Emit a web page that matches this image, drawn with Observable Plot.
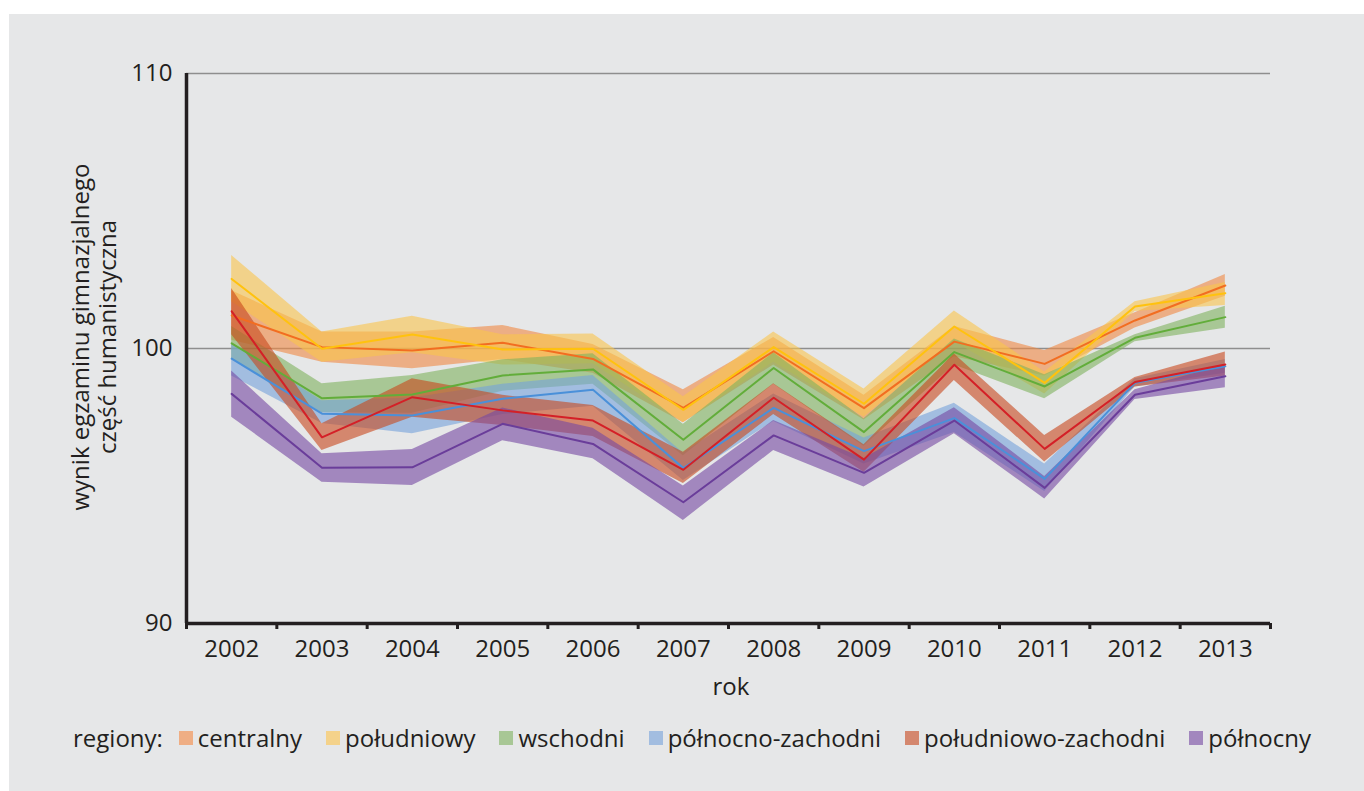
<!DOCTYPE html>
<html>
<head>
<meta charset="utf-8">
<script src="https://cdn.jsdelivr.net/npm/d3@7"></script>
<script src="https://cdn.jsdelivr.net/npm/@observablehq/plot@0.6"></script>
<style>
  html, body { margin: 0; padding: 0; background: #ffffff; width: 1364px; height: 791px; overflow: hidden; }
  body { position: relative; font-family: "Open Sans", sans-serif; color: #231f20; }
  #panel { position: absolute; left: 9px; top: 14px; right: 0; bottom: 0; background: #e6e7e8; }
  #chart { position: absolute; left: 0; top: 0; }
  #ylabel { position: absolute; left: -107px; top: 310px; width: 400px; height: 54px; line-height: 27px;
            text-align: center; font-size: 24px; transform: rotate(-90deg); transform-origin: 50% 50%; }
  #xlabel { position: absolute; left: 631px; width: 200px; top: 670px; text-align: center; font-size: 24px; line-height: 32px; }
  #legend { position: absolute; left: 73px; top: 722px; display: flex;
            align-items: center; font-size: 24px; line-height: 32px; white-space: nowrap; }
  .item { display: flex; align-items: center; margin-left: 24px; }
  .item.first { margin-left: 16px; }
  .sw { width: 14px; height: 14px; margin-right: 5px; display: inline-block; }
</style>
</head>
<body>
<div id="panel"></div>
<div id="chart"></div>
<div id="ylabel">wynik egzaminu gimnazjalnego<br>część humanistyczna</div>
<div id="xlabel">rok</div>
<div id="legend"></div>
<script>
const years = [2002, 2003, 2004, 2005, 2006, 2007, 2008, 2009, 2010, 2011, 2012, 2013];
const regions = ["centralny", "południowy", "wschodni", "północno-zachodni", "południowo-zachodni", "północny"];
const yTicks = [90, 100, 110];

const centralnyMid = [101.2, 100.05, 99.93, 100.21, 99.62, 97.84, 99.9, 97.83, 100.25, 99.44, 101.02, 102.29];
const centralnyLo  = [100.3, 99.5, 99.26, 99.6, 99.1, 97.3, 99.4, 97.4, 99.7, 99.0, 100.75, 101.9];
const centralnyHi  = [102.1, 100.6, 100.6, 100.84, 100.15, 98.5, 100.4, 98.3, 100.8, 99.93, 101.3, 102.69];

const poludniowyMid = [102.53, 99.99, 100.51, 99.96, 99.99, 97.77, 100.05, 97.99, 100.8, 98.75, 101.53, 102.01];
const poludniowyLo  = [101.7, 99.5, 99.85, 99.4, 99.45, 97.3, 99.5, 97.5, 100.25, 98.35, 101.35, 101.56];
const poludniowyHi  = [103.38, 100.6, 101.17, 100.5, 100.53, 98.25, 100.6, 98.53, 101.36, 99.15, 101.7, 102.4];

const wschodniMid = [100.19, 98.19, 98.33, 99.02, 99.24, 96.68, 99.29, 96.96, 99.87, 98.62, 100.39, 101.14];
const wschodniLo  = [99.6, 97.66, 97.65, 98.45, 98.7, 96.1, 98.7, 96.45, 99.4, 98.17, 100.25, 100.74];
const wschodniHi  = [100.8, 98.72, 99.02, 99.59, 99.81, 97.25, 99.85, 97.45, 100.35, 99.05, 100.5, 101.54];

const pnZachMid = [99.63, 97.63, 97.56, 98.17, 98.5, 95.65, 97.84, 96.27, 97.47, 95.26, 98.75, 99.35];
const pnZachLo  = [99.0, 97.27, 96.9, 97.6, 97.9, 95.2, 97.35, 95.8, 96.95, 94.8, 98.6, 99.1];
const pnZachHi  = [100.2, 98.1, 98.2, 98.7, 99.02, 96.2, 98.35, 96.75, 98.01, 95.8, 98.9, 99.6];

const pdZachMid = [101.35, 96.77, 98.23, 97.75, 97.38, 95.59, 98.21, 95.96, 99.41, 96.35, 98.78, 99.42];
const pdZachLo  = [100.5, 96.29, 97.5, 97.2, 96.8, 95.09, 97.6, 95.5, 98.84, 95.87, 98.6, 99.0];
const pdZachHi  = [102.18, 97.26, 98.9, 98.3, 97.93, 96.23, 98.72, 96.5, 99.8, 96.84, 98.95, 99.87];

const polnocnyMid = [98.35, 95.66, 95.68, 97.26, 96.53, 94.41, 96.84, 95.48, 97.38, 94.93, 98.32, 98.99];
const polnocnyLo  = [97.5, 95.14, 95.02, 96.65, 95.99, 93.75, 96.29, 94.96, 96.9, 94.53, 98.15, 98.57];
const polnocnyHi  = [99.18, 96.17, 96.33, 97.84, 97.1, 95.0, 97.38, 96.0, 97.85, 95.35, 98.5, 99.4];

const bandColors = ["#f08842", "#fac44b", "#7fb25d", "#75a1da", "#c8471c", "#7547a1"];
const lineColors = ["#f26d21", "#ffc20e", "#62ad3a", "#4a90d9", "#d42027", "#6a3d9a"];
const swatchColors = ["#efae84", "#f4d28a", "#a8c795", "#a2bde0", "#d4876e", "#a287be"];

const series = [
  [centralnyMid, centralnyLo, centralnyHi],
  [poludniowyMid, poludniowyLo, poludniowyHi],
  [wschodniMid, wschodniLo, wschodniHi],
  [pnZachMid, pnZachLo, pnZachHi],
  [pdZachMid, pdZachLo, pdZachHi],
  [polnocnyMid, polnocnyLo, polnocnyHi]
];

const tables = series.map(([mid, lo, hi], i) =>
  years.map((year, j) => ({region: regions[i], year, mid: mid[j], lo: lo[j], hi: hi[j]}))
);

const bounds = [years[0] - 0.5, ...years.map(y => y + 0.5)];

const bandMarks = tables.map((t, i) =>
  Plot.areaY(t, {x: "year", y1: "lo", y2: "hi", fill: bandColors[i], fillOpacity: 0.6})
);
const lineMarks = tables.map((t, i) =>
  Plot.lineY(t, {x: "year", y: "mid", stroke: lineColors[i], strokeWidth: 2})
);

const chart = Plot.plot({
  width: 1364,
  height: 700,
  marginLeft: 186,
  marginRight: 94,
  marginTop: 73,
  marginBottom: 77,
  style: {fontFamily: "Open Sans, sans-serif", fontSize: "24px", color: "#231f20", background: "transparent"},
  x: {domain: [bounds[0], bounds[bounds.length - 1]]},
  y: {domain: [90, 110]},
  marks: [
    Plot.gridY([100, 110], {stroke: "#8e8e8e", strokeOpacity: 1, strokeWidth: 1.3}),
    ...bandMarks,
    ...lineMarks,
    Plot.axisY({ticks: yTicks, tickSize: 0, tickPadding: 14, tickFormat: d => String(d), label: null, fontSize: 24}),
    Plot.axisX({ticks: years, tickSize: 0, tickPadding: 16, tickFormat: d => String(d), label: null, fontSize: 24}),
    Plot.axisX({ticks: bounds, tickSize: 6, tickFormat: () => "", label: null, stroke: "#231f20", strokeWidth: 3}),
    Plot.ruleX([bounds[0]], {stroke: "#231f20", strokeWidth: 3.5}),
    Plot.ruleY([90], {stroke: "#231f20", strokeWidth: 3.5})
  ]
});
document.getElementById("chart").appendChild(chart);

const legend = document.getElementById("legend");
const lab = document.createElement("span");
lab.textContent = "regiony:";
legend.appendChild(lab);
regions.forEach((r, i) => {
  const it = document.createElement("span");
  it.className = i === 0 ? "item first" : "item";
  const sw = document.createElement("span");
  sw.className = "sw";
  sw.style.background = swatchColors[i];
  const tx = document.createElement("span");
  tx.textContent = r;
  it.appendChild(sw);
  it.appendChild(tx);
  legend.appendChild(it);
});
</script>
</body>
</html>
